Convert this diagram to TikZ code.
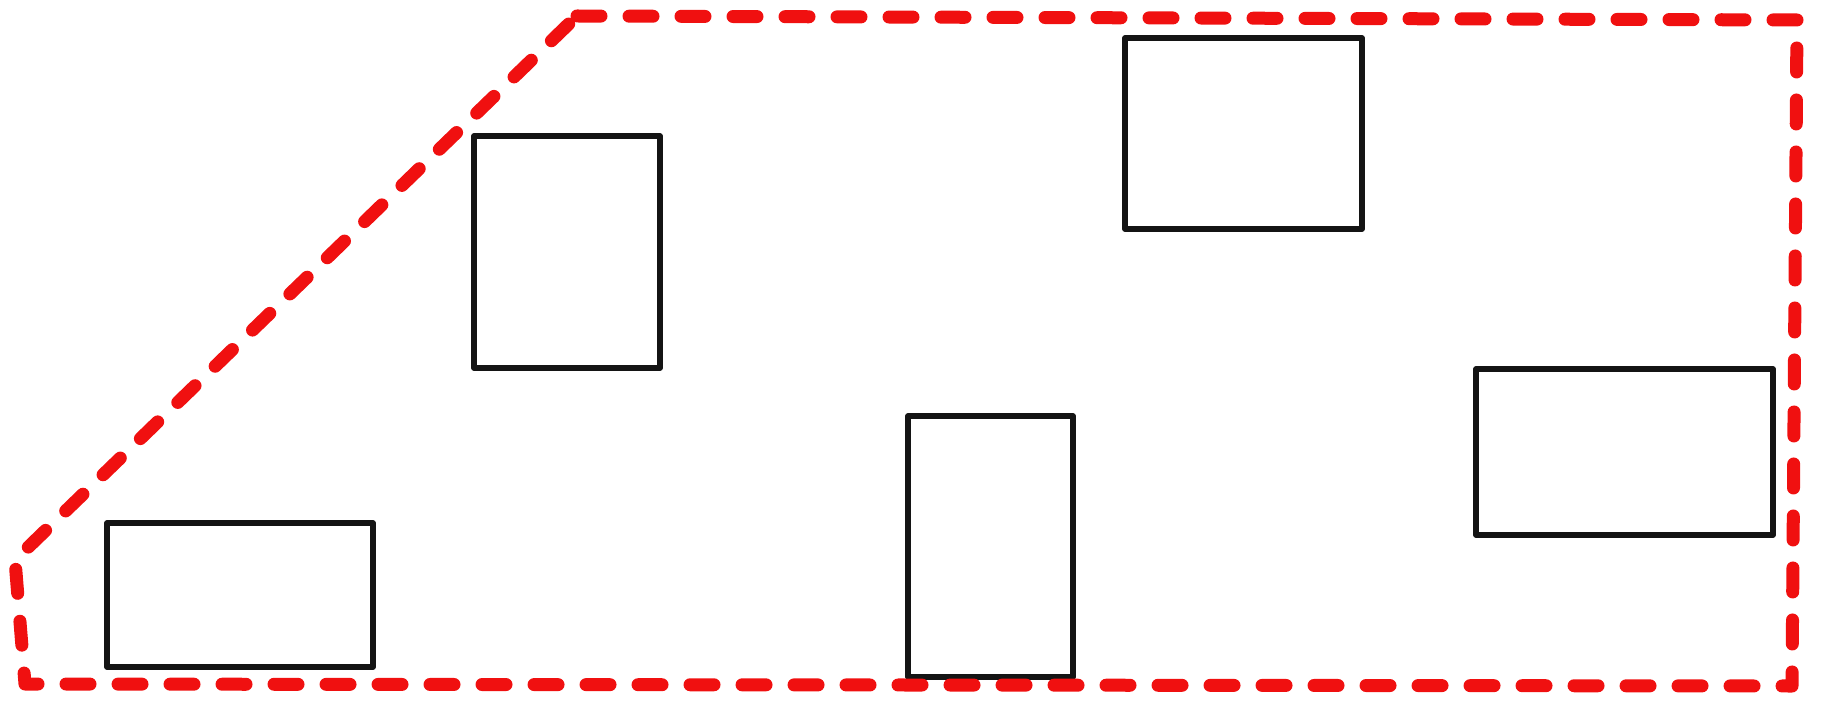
\documentclass[tikz,border=0pt]{standalone}
\usepackage{tikz}
\usetikzlibrary{positioning}
\definecolor{zoneRed}{HTML}{F01010}
\definecolor{boxInk}{HTML}{141414}

\begin{document}
\begin{tikzpicture}[x=1pt, y=-1pt,
          room/.style={draw=boxInk, line width=5.5pt, inner sep=0pt, line join=round},
          zone/.style={draw=zoneRed, line width=13pt, line cap=round, line join=round, dash pattern=on 24pt off 28pt}]
        \useasboundingbox (0,0) rectangle (1825,708);
        \node[room, minimum width=266pt, minimum height=144pt] (r1) at (240,595) {};
        \node[room, minimum width=186pt, minimum height=232pt] (r2) at (567,252) {};
        \node[room, minimum width=237pt, minimum height=191pt] (r3) at (1243.5,133.5) {};
        \node[room, minimum width=165pt, minimum height=261pt] (r4) at (990.5,546.5) {};
        \node[room, minimum width=297pt, minimum height=166pt] (r5) at (1624.5,452) {};
        % red boundary
        \draw[zone] (577,16) -- (1797,20) -- (1792,686) -- (25,684) -- (15,560) -- cycle;
      \end{tikzpicture}
\end{document}
